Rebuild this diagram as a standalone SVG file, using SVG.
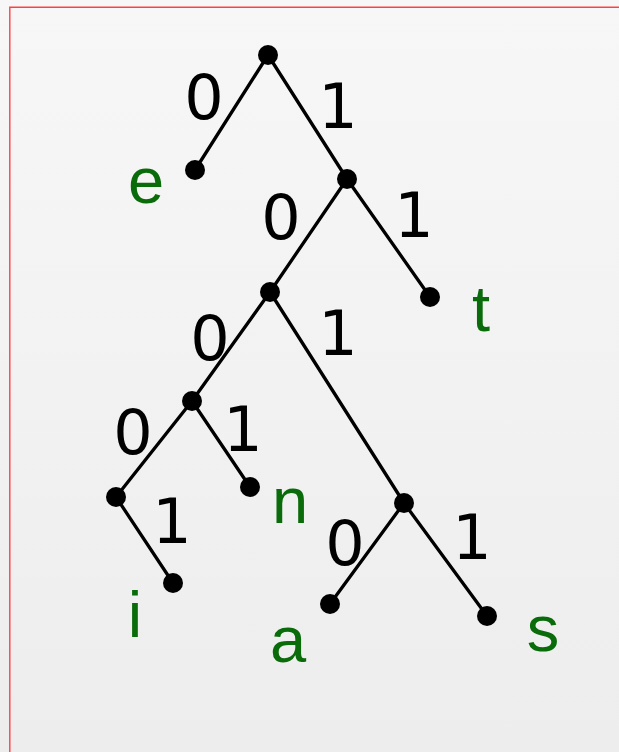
<svg xmlns="http://www.w3.org/2000/svg" width="619" height="752" viewBox="0 0 619 752">
<defs>
<linearGradient id="bg" x1="0" y1="0" x2="0" y2="1">
<stop offset="0" stop-color="#f7f7f7"/>
<stop offset="1" stop-color="#ededed"/>
</linearGradient>
<style>
.edge{stroke:#000;stroke-width:3.3;stroke-linecap:round;fill:none}
.dot{fill:#000}
.bit{font-family:"DejaVu Sans",sans-serif;font-size:62px;fill:#000;text-anchor:middle}
.sym{font-family:"Liberation Sans",Arial,sans-serif;font-size:65px;fill:#0a6b0a;text-anchor:middle}
.frame{stroke:#ff4040;stroke-width:1.4;fill:none}
</style>
</defs>
<rect x="0" y="0" width="619" height="752" fill="url(#bg)"/>
<path class="frame" d="M9.8,752 V7.3 H619"/>
<g id="connectors">
<line class="edge" x1="268" y1="55" x2="195" y2="170"/>
<line class="edge" x1="268" y1="55" x2="347" y2="179"/>
<line class="edge" x1="347" y1="179" x2="430" y2="297"/>
<line class="edge" x1="347" y1="179" x2="270" y2="292"/>
<line class="edge" x1="270" y1="292" x2="192" y2="401"/>
<line class="edge" x1="270" y1="292" x2="404" y2="503"/>
<line class="edge" x1="192" y1="401" x2="250" y2="487"/>
<line class="edge" x1="192" y1="401" x2="116" y2="497"/>
<line class="edge" x1="116" y1="497" x2="173" y2="583"/>
<line class="edge" x1="404" y1="503" x2="330" y2="604"/>
<line class="edge" x1="404" y1="503" x2="487" y2="616"/>
<text class="bit" x="204" y="119">0</text>
<text class="bit" x="338" y="128">1</text>
<text class="bit" x="281" y="239">0</text>
<text class="bit" x="414" y="237">1</text>
<text class="bit" x="210" y="360">0</text>
<text class="bit" x="338" y="355">1</text>
<text class="bit" x="133" y="454">0</text>
<text class="bit" x="243" y="451">1</text>
<text class="bit" x="172" y="543">1</text>
<text class="bit" x="345" y="565">0</text>
<text class="bit" x="472" y="559">1</text>
</g>
<g id="root"><circle class="dot" cx="268" cy="55" r="10"/></g>
<g id="leaf-e"><circle class="dot" cx="195" cy="170" r="10"/><text class="sym" x="146" y="203">e</text></g>
<g id="n1"><circle class="dot" cx="347" cy="179" r="10"/></g>
<g id="leaf-t"><circle class="dot" cx="430" cy="297" r="10"/><text class="sym" x="481" y="331">t</text></g>
<g id="n2"><circle class="dot" cx="270" cy="292" r="10"/></g>
<g id="n3"><circle class="dot" cx="192" cy="401" r="10"/></g>
<g id="leaf-n"><circle class="dot" cx="250" cy="487" r="10"/><text class="sym" x="290" y="523">n</text></g>
<g id="n4"><circle class="dot" cx="116" cy="497" r="10"/></g>
<g id="leaf-i"><circle class="dot" cx="173" cy="583" r="10"/><text class="sym" x="135" y="637">i</text></g>
<g id="n5"><circle class="dot" cx="404" cy="503" r="10"/></g>
<g id="leaf-a"><circle class="dot" cx="330" cy="604" r="10"/><text class="sym" x="288" y="662">a</text></g>
<g id="leaf-s"><circle class="dot" cx="487" cy="616" r="10"/><text class="sym" x="543" y="651">s</text></g>
</svg>
